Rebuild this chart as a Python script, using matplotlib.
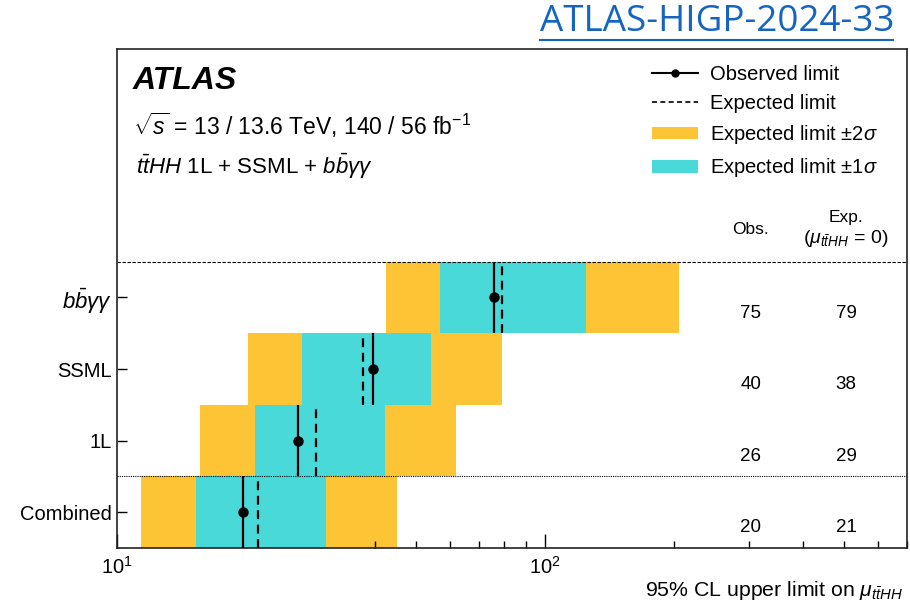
import matplotlib
matplotlib.use("Agg")
import matplotlib.pyplot as plt
import matplotlib.transforms as mtransforms
from matplotlib.lines import Line2D
from matplotlib.patches import Patch

plt.rcParams['font.family'] = ['Liberation Sans', 'DejaVu Sans']
plt.rcParams['mathtext.fontset'] = 'custom'
plt.rcParams['mathtext.rm'] = 'Liberation Sans'
plt.rcParams['mathtext.it'] = 'Liberation Sans:italic'
plt.rcParams['mathtext.bf'] = 'Liberation Sans:bold'

# ---- data (bottom to top) ----
categories = ['Combined', '1L', 'SSML', r'$b\bar{b}\gamma\gamma$']
observed = [19.7, 26.4, 39.6, 75.9]
expected = [21.3, 29.2, 37.6, 79.1]
minus2 = [11.4, 15.6, 20.2, 42.4]
minus1 = [15.3, 21.0, 27.0, 56.9]
plus1 = [30.8, 42.2, 54.1, 124.3]
plus2 = [45.0, 61.8, 79.1, 205.5]
obs_labels = ['20', '26', '40', '75']
exp_labels = ['21', '29', '38', '79']

yellow = '#FDC536'
cyan = '#4AD9D9'

fig = plt.figure(figsize=(9.1, 6.05), dpi=100)
ax = fig.add_axes([117/910, 1-548/605, 790/910, 499/605])
ax.set_xscale('log')
ax.set_xlim(10, 700)
ax.set_ylim(-0.5, 6.47)

ypos = list(range(len(categories)))
for i in ypos:
    ax.barh(i, plus2[i]-minus2[i], left=minus2[i], height=1.0, color=yellow, lw=0, zorder=1)
    ax.barh(i, plus1[i]-minus1[i], left=minus1[i], height=1.0, color=cyan, lw=0, zorder=2)
    ax.vlines(expected[i], i-0.5, i+0.5, colors='black', linestyles=(0, (4, 2.5)), lw=1.6, zorder=3)
    ax.vlines(observed[i], i-0.5, i+0.5, colors='black', lw=1.6, zorder=3)
    ax.plot(observed[i], i, 'o', color='black', ms=6.5, zorder=4)

ax.axhline(3.5, color='black', ls=(0, (3, 1.5)), lw=0.8, zorder=5)
ax.axhline(0.5, color='black', ls=(0, (1, 1)), lw=0.8, zorder=5)

ax.set_yticks(ypos)
ax.set_yticklabels(categories, fontsize=14.5)
ax.get_yticklabels()[3].set_fontsize(16)
ax.tick_params(axis='y', direction='in', length=7, width=1, left=True, right=False)
ax.tick_params(axis='x', which='major', direction='in', length=10, width=1, labelsize=14.5, pad=6, top=False)
ax.tick_params(axis='x', which='minor', direction='in', length=5, width=1, top=False)
for s in ax.spines.values():
    s.set_linewidth(1.2)
    s.set_color('#222222')

fig.text(903/910, 1-590/605, r'95% CL upper limit on $\mu_{t\bar{t}HH}$', fontsize=15.3,
         ha='right', va='center')

trans = mtransforms.blended_transform_factory(ax.transAxes, ax.transData)
for i in ypos:
    ax.text(0.802, i-0.22, obs_labels[i], transform=trans, ha='center', va='center', fontsize=13.5)
    ax.text(0.923, i-0.22, exp_labels[i], transform=trans, ha='center', va='center', fontsize=13.5)
ax.text(0.802, 3.95, 'Obs.', transform=trans, ha='center', va='center', fontsize=12.5)
ax.text(0.923, 4.11, 'Exp.', transform=trans, ha='center', va='center', fontsize=12.5)
ax.text(0.923, 3.83, r'$(\mu_{t\bar{t}HH}$ = 0)', transform=trans, ha='center', va='center', fontsize=14)

# ATLAS labels
ax.text(133/910, 1-81/605, 'ATLAS', transform=fig.transFigure, fontsize=23, fontweight='bold',
        fontstyle='italic', ha='left', va='center')
ax.text(133/910, 1-125/605, r'$\sqrt{s}$ = 13 / 13.6 TeV, 140 / 56 fb$^{-1}$', transform=fig.transFigure,
        fontsize=16.5, ha='left', va='center')
ax.text(136/910, 1-166/605, r'$t\bar{t}HH$ 1L + SSML + $b\bar{b}\gamma\gamma$', transform=fig.transFigure,
        fontsize=16, ha='left', va='center')

handles = [
    Line2D([0], [0], color='black', lw=1.5, marker='o', ms=5),
    Line2D([0], [0], color='black', lw=1.2, ls=(0, (3, 2))),
    Patch(color=yellow, lw=0),
    Patch(color=cyan, lw=0),
]
labels = ['Observed limit', 'Expected limit', r'Expected limit $\pm 2\sigma$', r'Expected limit $\pm 1\sigma$']
fig.legend(handles, labels, loc='upper left', bbox_to_anchor=(652/910, 1-65/605), frameon=False,
           fontsize=14.5, handlelength=2.3, handleheight=0.6, handletextpad=0.6, labelspacing=0.5,
           borderpad=0, borderaxespad=0)

# header
fig.text(540/910, 1-22/605, 'ATLAS-HIGP-2024-33', color='#1565C0', fontsize=26.5, family='Open Sans',
         ha='left', va='center')
fig.add_artist(Line2D([540/910, 893/910], [1-40/605, 1-40/605], color='#1565C0', lw=1.5,
                      transform=fig.transFigure))

fig.savefig('out.png', dpi=100)
